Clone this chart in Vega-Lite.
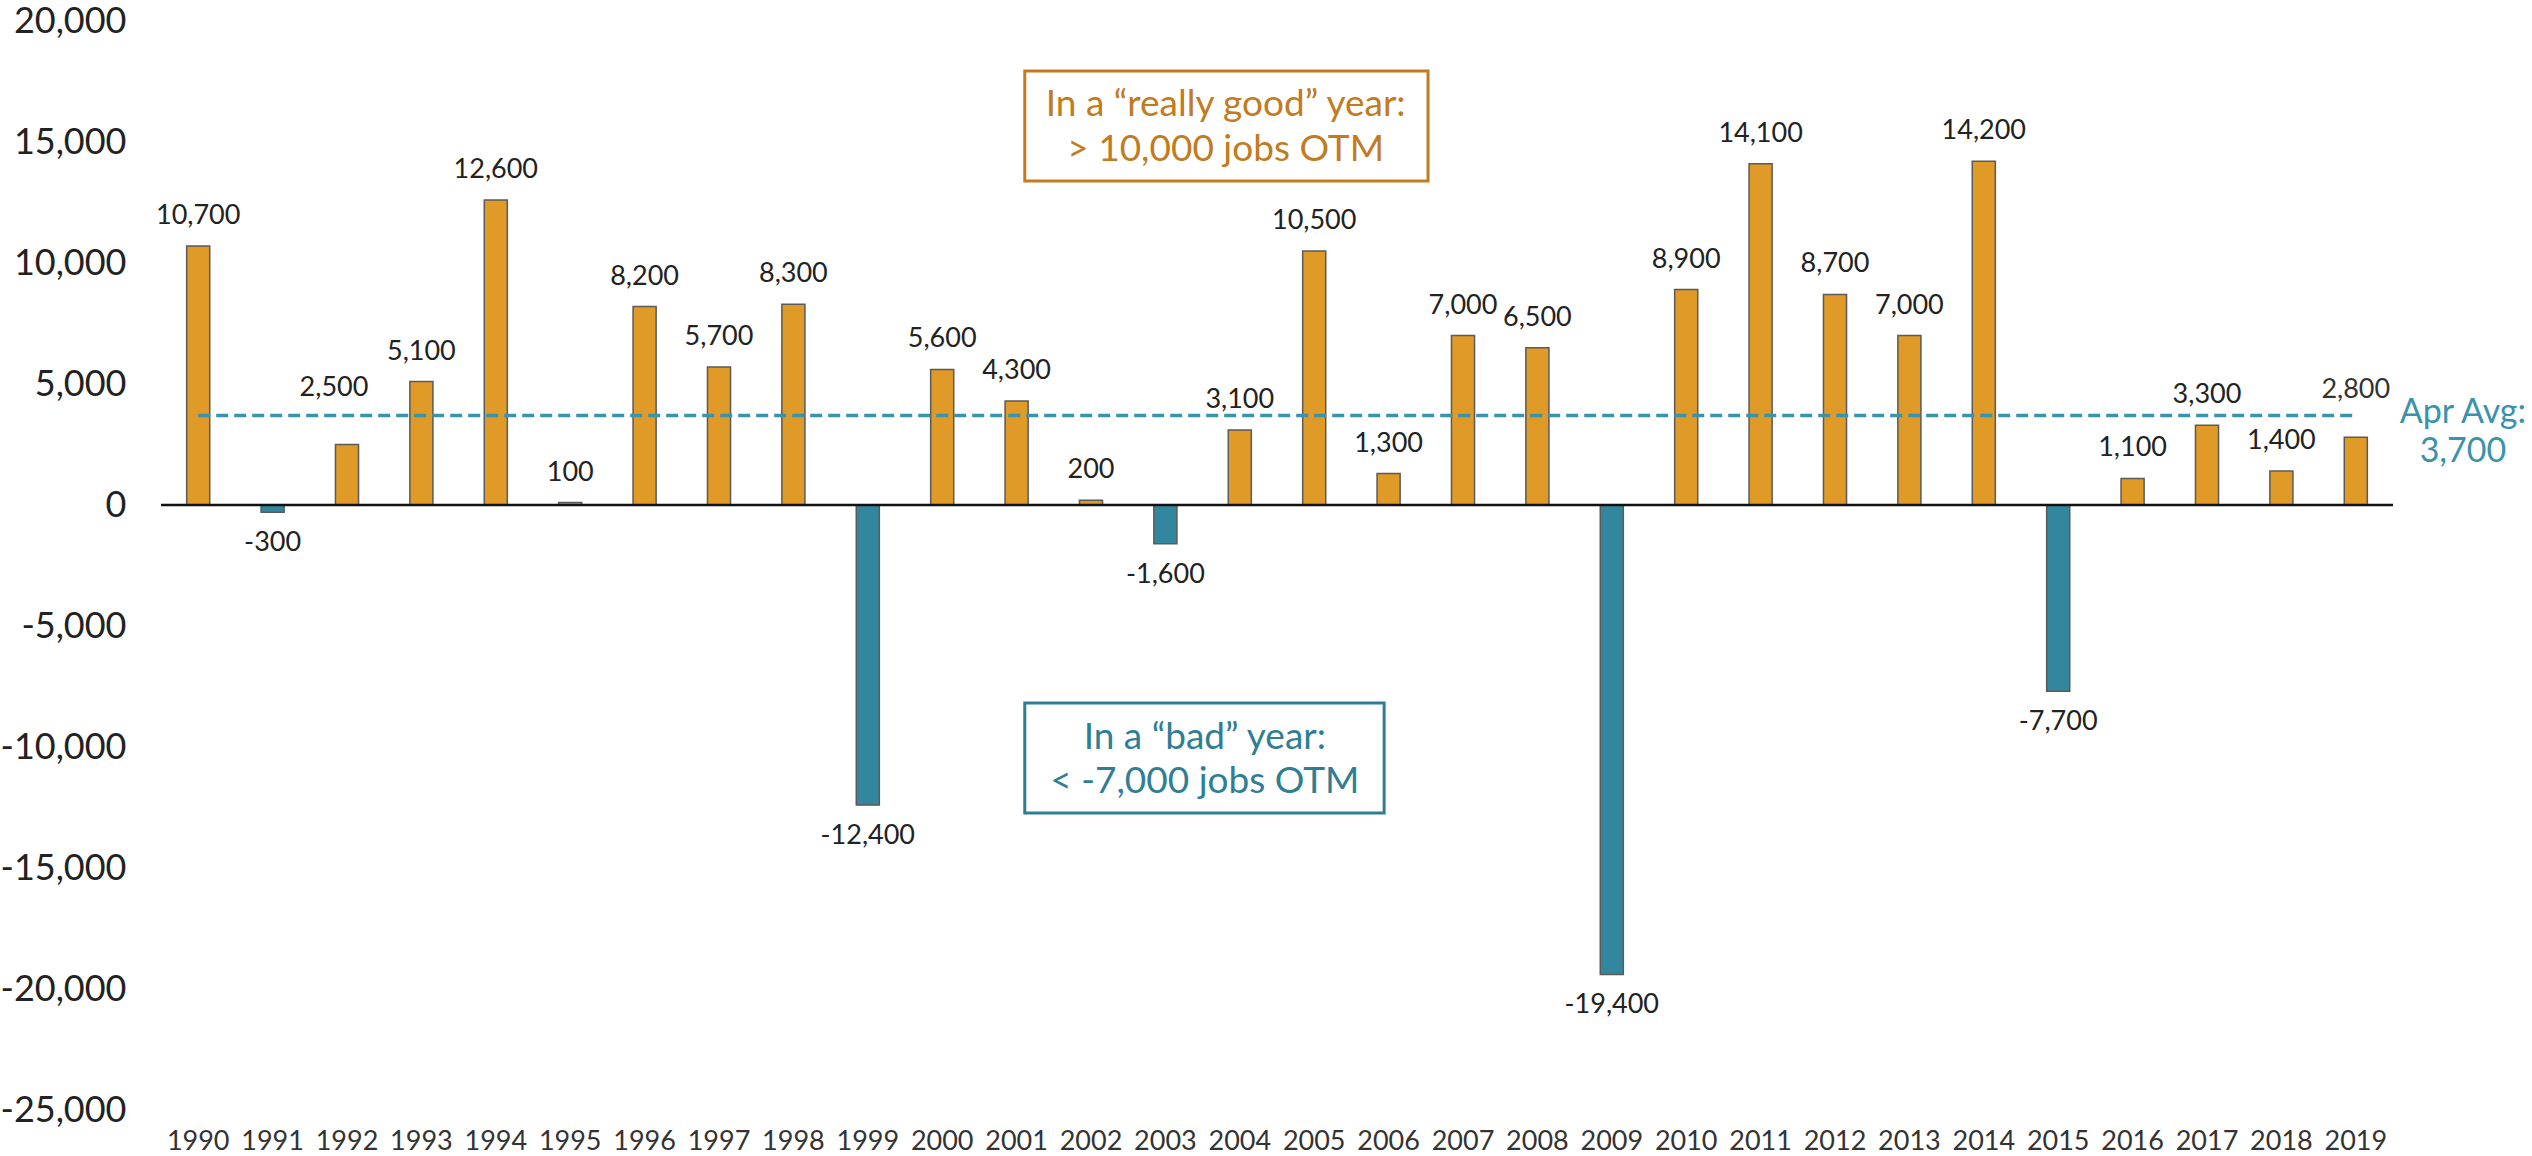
{
  "$schema": "https://vega.github.io/schema/vega-lite/v6.json",
  "autosize": {"type": "none"},
  "padding": {"left": 161, "top": 21, "right": 139, "bottom": 46},
  "width": 2232,
  "height": 1089,
  "background": "white",
  "config": {
    "font": "Lato",
    "view": {"stroke": null},
    "locale": {"number": {"decimal": ".", "thousands": ",", "grouping": [3], "currency": ["$", ""], "minus": "-"}}
  },
  "datasets": {
    "jobs": [
      {"year": "1990", "v": 10700}, {"year": "1991", "v": -300}, {"year": "1992", "v": 2500},
      {"year": "1993", "v": 5100}, {"year": "1994", "v": 12600}, {"year": "1995", "v": 100},
      {"year": "1996", "v": 8200}, {"year": "1997", "v": 5700}, {"year": "1998", "v": 8300},
      {"year": "1999", "v": -12400}, {"year": "2000", "v": 5600}, {"year": "2001", "v": 4300},
      {"year": "2002", "v": 200}, {"year": "2003", "v": -1600}, {"year": "2004", "v": 3100},
      {"year": "2005", "v": 10500}, {"year": "2006", "v": 1300}, {"year": "2007", "v": 7000},
      {"year": "2008", "v": 6500}, {"year": "2009", "v": -19400}, {"year": "2010", "v": 8900},
      {"year": "2011", "v": 14100}, {"year": "2012", "v": 8700}, {"year": "2013", "v": 7000},
      {"year": "2014", "v": 14200}, {"year": "2015", "v": -7700}, {"year": "2016", "v": 1100},
      {"year": "2017", "v": 3300}, {"year": "2018", "v": 1400}, {"year": "2019", "v": 2800}
    ],
    "boxes": [
      {"group": "good", "x": 2001.11, "x2": 2006.53, "y": 17934, "y2": 13388},
      {"group": "bad", "x": 2001.11, "x2": 2005.94, "y": -8182, "y2": -12727}
    ],
    "notes": [
      {"group": "good", "x": 2003.81, "y": 16529, "text": "In a “really good” year:"},
      {"group": "good", "x": 2003.81, "y": 14669, "text": "> 10,000 jobs OTM"},
      {"group": "bad", "x": 2003.53, "y": -9628, "text": "In a “bad” year:"},
      {"group": "bad", "x": 2003.53, "y": -11446, "text": "< -7,000 jobs OTM"}
    ],
    "avgnote": [
      {"group": "avg", "x": 2020.44, "y": 3822, "text": "Apr Avg:\n3,700"}
    ],
    "avg": [
      {"x": 1990, "x2": 2019, "y": 3700}
    ]
  },
  "resolve": {"scale": {"x": "independent"}},
  "layer": [
    {
      "data": {"name": "jobs"},
      "encoding": {
        "x": {
          "field": "year", "type": "ordinal",
          "scale": {"paddingInner": 0.69, "paddingOuter": 0.345},
          "axis": {"title": null, "labelAngle": 0, "domain": false, "ticks": false, "labelFontSize": 27, "labelColor": "#333333", "labelPadding": 18}
        },
        "y": {
          "field": "v", "type": "quantitative",
          "scale": {"domain": [-25000, 20000], "nice": false, "zero": false},
          "axis": {"title": null, "values": [-25000, -20000, -15000, -10000, -5000, 0, 5000, 10000, 15000, 20000], "format": ",", "labelExpr": "replace(format(datum.value, ','), '\u2212', '-')", "domain": false, "ticks": false, "grid": false, "labelFontSize": 36, "labelColor": "#222222", "labelPadding": 35}
        }
      },
      "layer": [
        {
          "mark": {"type": "bar", "stroke": "#5a5a5a", "strokeWidth": 1.5},
          "encoding": {
            "color": {"condition": {"test": "datum.v < 0", "value": "#32879E"}, "value": "#E09A27"}
          }
        },
        {
          "transform": [{"filter": "datum.v >= 0 && datum.year != '1992' && datum.year != '2019'"}],
          "mark": {"type": "text", "baseline": "middle", "dy": -30, "fontSize": 27, "color": "#222222"},
          "encoding": {"text": {"field": "v", "type": "quantitative", "format": ","}}
        },
        {
          "transform": [{"filter": "datum.year == '1992'"}],
          "mark": {"type": "text", "baseline": "middle", "dy": -57, "dx": -13, "fontSize": 27, "color": "#222222"},
          "encoding": {"text": {"field": "v", "type": "quantitative", "format": ","}}
        },
        {
          "transform": [{"filter": "datum.year == '2019'"}],
          "mark": {"type": "text", "baseline": "middle", "dy": -47, "fontSize": 27, "color": "#333333"},
          "encoding": {"text": {"field": "v", "type": "quantitative", "format": ","}}
        },
        {
          "transform": [{"filter": "datum.v < 0"}],
          "mark": {"type": "text", "baseline": "middle", "dy": 31, "fontSize": 27, "color": "#222222"},
          "encoding": {"text": {"field": "v", "type": "quantitative", "format": ","}}
        }
      ]
    },
    {
      "data": {"name": "avg"},
      "mark": {"type": "rule", "color": "#111111", "strokeWidth": 2.5},
      "encoding": {"y": {"datum": 0, "type": "quantitative", "axis": {"title": null, "values": [-25000, -20000, -15000, -10000, -5000, 0, 5000, 10000, 15000, 20000], "format": ",", "labelExpr": "replace(format(datum.value, ','), '\u2212', '-')", "domain": false, "ticks": false, "grid": false, "labelFontSize": 36, "labelColor": "#222222", "labelPadding": 35}}}
    },
    {
      "data": {"name": "avg"},
      "mark": {"type": "rule", "color": "#3A93AA", "strokeWidth": 3.5, "strokeDash": [12, 6]},
      "encoding": {
        "x": {"field": "x", "type": "quantitative", "scale": {"domain": [1989.5, 2019.5], "nice": false, "zero": false}, "axis": null},
        "x2": {"field": "x2"},
        "y": {"field": "y", "type": "quantitative", "axis": {"title": null, "values": [-25000, -20000, -15000, -10000, -5000, 0, 5000, 10000, 15000, 20000], "format": ",", "labelExpr": "replace(format(datum.value, ','), '\u2212', '-')", "domain": false, "ticks": false, "grid": false, "labelFontSize": 36, "labelColor": "#222222", "labelPadding": 35}}
      }
    },
    {
      "data": {"name": "boxes"},
      "mark": {"type": "rect", "fill": null, "filled": false, "strokeWidth": 3},
      "encoding": {
        "x": {"field": "x", "type": "quantitative", "scale": {"domain": [1989.5, 2019.5], "nice": false, "zero": false}, "axis": null},
        "x2": {"field": "x2"},
        "y": {"field": "y", "type": "quantitative", "axis": {"title": null, "values": [-25000, -20000, -15000, -10000, -5000, 0, 5000, 10000, 15000, 20000], "format": ",", "labelExpr": "replace(format(datum.value, ','), '\u2212', '-')", "domain": false, "ticks": false, "grid": false, "labelFontSize": 36, "labelColor": "#222222", "labelPadding": 35}},
        "y2": {"field": "y2"},
        "stroke": {"field": "group", "type": "nominal", "scale": {"domain": ["good", "bad", "avg"], "range": ["#C27B1E", "#2F7E93", "#3A93AA"]}, "legend": null}
      }
    },
    {
      "data": {"name": "notes"},
      "mark": {"type": "text", "fontSize": 37, "baseline": "middle", "align": "center"},
      "encoding": {
        "x": {"field": "x", "type": "quantitative", "scale": {"domain": [1989.5, 2019.5], "nice": false, "zero": false}, "axis": null},
        "y": {"field": "y", "type": "quantitative", "axis": {"title": null, "values": [-25000, -20000, -15000, -10000, -5000, 0, 5000, 10000, 15000, 20000], "format": ",", "labelExpr": "replace(format(datum.value, ','), '\u2212', '-')", "domain": false, "ticks": false, "grid": false, "labelFontSize": 36, "labelColor": "#222222", "labelPadding": 35}},
        "text": {"field": "text", "type": "nominal"},
        "color": {"field": "group", "type": "nominal", "scale": {"domain": ["good", "bad", "avg"], "range": ["#C27B1E", "#2F7E93", "#3A93AA"]}, "legend": null}
      }
    },
    {
      "data": {"name": "avgnote"},
      "mark": {"type": "text", "fontSize": 34, "baseline": "middle", "align": "center", "lineBreak": "\n", "lineHeight": 39},
      "encoding": {
        "x": {"field": "x", "type": "quantitative", "scale": {"domain": [1989.5, 2019.5], "nice": false, "zero": false}, "axis": null},
        "y": {"field": "y", "type": "quantitative", "axis": {"title": null, "values": [-25000, -20000, -15000, -10000, -5000, 0, 5000, 10000, 15000, 20000], "format": ",", "labelExpr": "replace(format(datum.value, ','), '\u2212', '-')", "domain": false, "ticks": false, "grid": false, "labelFontSize": 36, "labelColor": "#222222", "labelPadding": 35}},
        "text": {"field": "text", "type": "nominal"},
        "color": {"field": "group", "type": "nominal", "scale": {"domain": ["good", "bad", "avg"], "range": ["#C27B1E", "#2F7E93", "#3A93AA"]}, "legend": null}
      }
    }
  ]
}
